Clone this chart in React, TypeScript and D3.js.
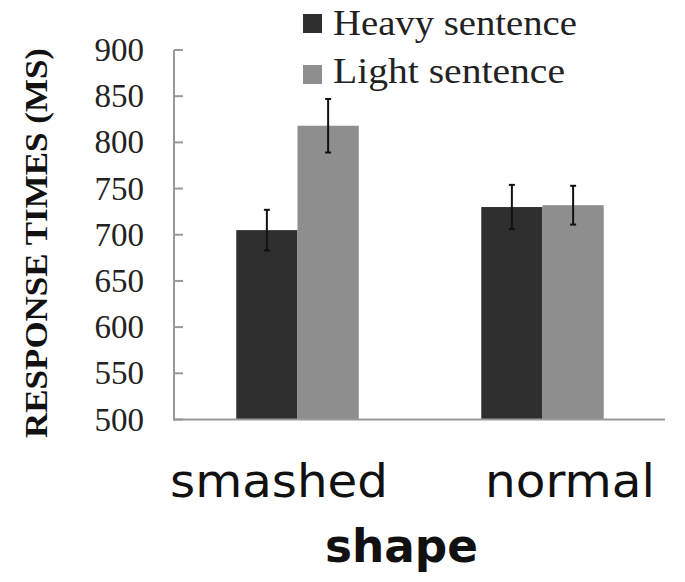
import React from "react";
import * as d3 from "d3";

const categories = ["smashed", "normal"];
const seriesNames = ["Heavy sentence", "Light sentence"];
const heavyValues = [705, 730];
const lightValues = [818, 732];
const heavyErrors = [22, 24];
const lightErrors = [29, 21];
const yTicks = [500, 550, 600, 650, 700, 750, 800, 850, 900];
const seriesColors = ["#2f2f2f", "#8e8e8e"];

const W = 685;
const H = 582;

export default function App() {
  const x = d3
    .scaleBand<string>()
    .domain(categories)
    .range([175, 665])
    .paddingInner(0.5)
    .paddingOuter(0.25);
  const xs = d3
    .scaleBand<string>()
    .domain(seriesNames)
    .range([0, x.bandwidth()]);
  const y = d3.scaleLinear().domain([500, 900]).range([419.5, 50]);

  const seriesVals = [heavyValues, lightValues];
  const seriesErrs = [heavyErrors, lightErrors];

  const serif = "'Liberation Serif', 'Times New Roman', serif";
  const sans = "'DejaVu Sans', sans-serif";

  const labelPos = [
    { start: 170, len: 218 },
    { start: 485, len: 170 },
  ];

  return (
    <svg
      width={W}
      height={H}
      style={{ position: "absolute", left: 0, top: 0, background: "#fff" }}
    >
      {/* bars */}
      {categories.map((c, ci) =>
        seriesNames.map((s, si) => {
          const v = seriesVals[si][ci];
          const bx = (x(c) as number) + (xs(s) as number);
          return (
            <rect
              key={c + s}
              x={bx}
              y={y(v)}
              width={xs.bandwidth()}
              height={y(500) - y(v)}
              fill={seriesColors[si]}
            />
          );
        })
      )}
      {/* error bars */}
      {categories.map((c, ci) =>
        seriesNames.map((s, si) => {
          const v = seriesVals[si][ci];
          const e = seriesErrs[si][ci];
          const cx = (x(c) as number) + (xs(s) as number) + xs.bandwidth() / 2;
          return (
            <g key={"e" + c + s} stroke="#111" strokeWidth={2}>
              <line x1={cx} x2={cx} y1={y(v + e)} y2={y(v - e)} />
              <line x1={cx - 3} x2={cx + 3} y1={y(v + e)} y2={y(v + e)} />
              <line x1={cx - 3} x2={cx + 3} y1={y(v - e)} y2={y(v - e)} />
            </g>
          );
        })
      )}
      {/* axes */}
      <g stroke="#999" strokeWidth={2} fill="none">
        <line x1={174} x2={174} y1={y(900)} y2={y(500) + 1} />
        <line x1={173} x2={665} y1={y(500)} y2={y(500)} />
        {yTicks.map((t) => (
          <line key={t} x1={174} x2={183} y1={y(t)} y2={y(t)} />
        ))}
      </g>
      {/* y tick labels */}
      {yTicks.map((t) => (
        <text
          key={"l" + t}
          x={144}
          y={y(t) + 11}
          textAnchor="end"
          fontFamily={serif}
          fontSize={33}
          fill="#222"
        >
          {t}
        </text>
      ))}
      {/* y axis title */}
      <text
        transform={`translate(47, 243) rotate(-90)`}
        textAnchor="middle"
        fontFamily={serif}
        fontWeight="bold"
        fontSize={32}
        fill="#111"
        textLength={390}
        lengthAdjust="spacingAndGlyphs"
      >
        RESPONSE TIMES (MS)
      </text>
      {/* category labels */}
      {categories.map((c, ci) => (
        <text
          key={"c" + c}
          x={labelPos[ci].start}
          y={497}
          fontFamily={sans}
          fontSize={46}
          fill="#111"
          textLength={labelPos[ci].len}
          lengthAdjust="spacingAndGlyphs"
        >
          {c}
        </text>
      ))}
      <text
        x={325}
        y={562}
        fontFamily={sans}
        fontWeight="bold"
        fontSize={46}
        fill="#111"
        textLength={153}
        lengthAdjust="spacingAndGlyphs"
      >
        shape
      </text>
      {/* legend */}
      {seriesNames.map((s, si) => (
        <g key={"lg" + s}>
          <rect
            x={303}
            y={14 + si * 51}
            width={19}
            height={19}
            fill={seriesColors[si]}
          />
          <text
            x={333}
            y={35 + si * 48}
            fontFamily={serif}
            fontSize={36}
            fill="#222"
            textLength={si === 0 ? 244 : 232}
            lengthAdjust="spacingAndGlyphs"
          >
            {s}
          </text>
        </g>
      ))}
    </svg>
  );
}
